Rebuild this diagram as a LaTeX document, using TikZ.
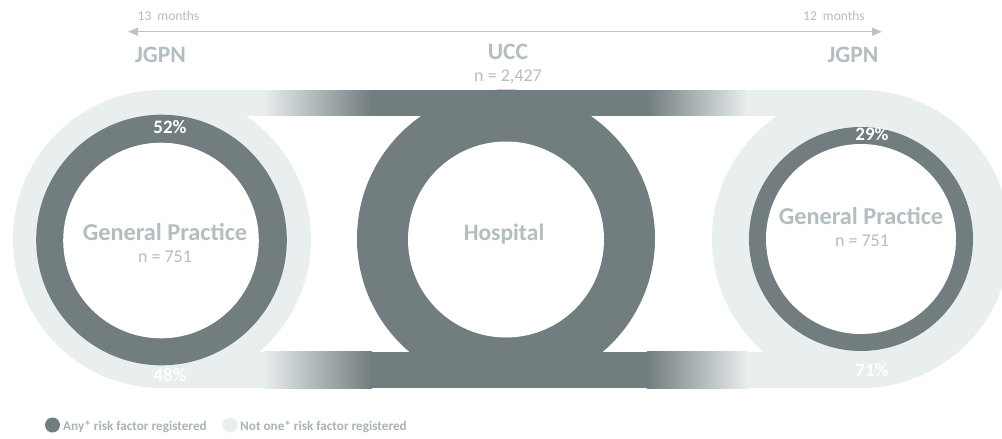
\documentclass[tikz,border=0pt]{standalone}
\usepackage{fontspec}
\setmainfont{Carlito}
\usetikzlibrary{arrows.meta}
\definecolor{dk}{RGB}{114,125,128}
\definecolor{lt}{RGB}{233,238,238}
\definecolor{tx}{RGB}{178,190,191}
\definecolor{ar}{RGB}{184,196,198}
\definecolor{lg}{RGB}{170,180,182}
\begin{document}
\begin{tikzpicture}[x=1pt,y=-1pt,
  lbl/.style={inner sep=0pt, anchor=base, text=tx},
  big/.style={lbl, font=\fontsize{23.5}{26}\selectfont\bfseries},
  gp/.style={lbl, font=\fontsize{24.3}{26}\selectfont\bfseries},
  sub/.style={lbl, font=\fontsize{18}{20}\selectfont},
  pct/.style={inner sep=0pt, anchor=base, text=white, font=\fontsize{19}{21}\selectfont\bfseries},
  mon/.style={lbl, font=\fontsize{13.5}{15}\selectfont},
  leg/.style={inner sep=0pt, anchor=base west, text=lg, font=\fontsize{13.2}{15}\selectfont\bfseries},
  dot/.style={circle, inner sep=0pt, minimum size=15pt},
  timeline/.style={draw=ar, line width=1.3pt, arrows={Triangle[length=10pt,width=8pt]-Triangle[length=10pt,width=8pt]}}
]
\useasboundingbox (0,0) rectangle (1002,439);
\clip (0,0) rectangle (1002,439);
\fill[white] (0,0) rectangle (1002,439);

% light end circles
\fill[lt] (162,239) circle[radius=149pt];
\fill[lt] (861,239) circle[radius=149pt];

% connecting bands with gradients
\foreach \ya/\yb in {90/115.5, 351.5/388} {
  \fill[lt] (162,\ya) rectangle (264,\yb);
  \shade[left color=lt, right color=dk] (263,\ya) rectangle (372,\yb);
  \fill[dk] (371,\ya) rectangle (648,\yb);
  \shade[left color=dk, right color=lt] (647,\ya) rectangle (748,\yb);
  \fill[lt] (747,\ya) rectangle (861,\yb);
}

% hospital ring
\fill[dk] (506,238.5) circle[radius=149pt];
\fill[white] (506,239.5) circle[radius=98pt];

% left ring (52%)
\fill[dk] (161.5,240) circle[radius=125.3pt];
\fill[white] (161,240.5) circle[radius=97.8pt];

% right ring (29%)
\fill[dk] (861,239) circle[radius=112pt];
\fill[white] (861,239) circle[radius=95pt];

% top time arrow
\coordinate (aL) at (128,31.7);
\coordinate (aR) at (882,31.7);
\draw[timeline] (aL) -- (aR);
\node[mon] (m13) at (168.5,20.7) {13\hspace{0.45em}months};
\node[mon] (m12) at (834,20.7) {12\hspace{0.45em}months};

\node[big] (jl) at (160.5,62) {JGPN};
\node[big] (jr) at (853,62) {JGPN};
\node[big] (ucc) at (508,59) {UCC};
\node[sub] (nucc) at (508,81.7) {n = 2,427};

% ring labels
\node[gp] (gpl) at (165,240.7) {General Practice};
\node[sub] (npl) at (165,262.7) {n = 751};
\node[big] (hosp) at (504,240) {Hospital};
\node[gp] (gpr) at (861,224) {General Practice};
\node[sub] (npr) at (862,246.7) {n = 751};

\node[pct] (p52) at (170,133) {52\%};
\node[pct] (p48) at (170,381.5) {48\%};
\node[pct] (p29) at (872,140) {29\%};
\node[pct] (p71) at (872,376.7) {71\%};

% legend
\node[dot, fill=dk] (d1) at (52.5,425) {};
\node[leg] (l1) at (63,430) {Any* risk factor registered};
\node[dot, fill=lt] (d2) at (230,425) {};
\node[leg] (l2) at (240,430) {Not one* risk factor registered};
\end{tikzpicture}
\end{document}
